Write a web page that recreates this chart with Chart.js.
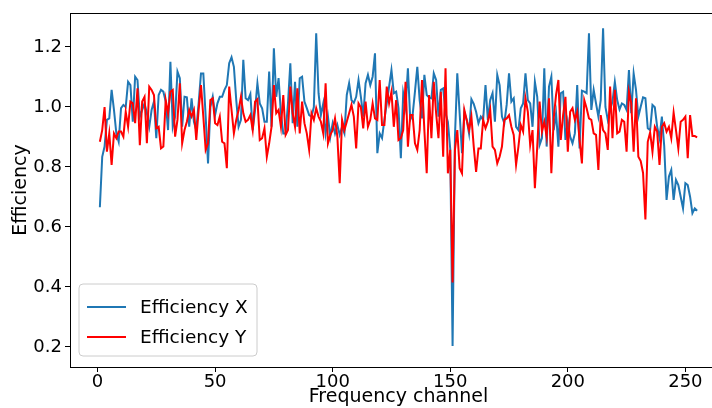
<!DOCTYPE html>
<html>
<head>
<meta charset="utf-8">
<script src="https://cdn.jsdelivr.net/npm/chart.js@4.4.1/dist/chart.umd.min.js"></script>
<style>
  html, body { margin: 0; padding: 0; background: #fff; overflow: hidden; }
  #wrap { width: 712px; height: 408px; overflow: hidden; }
</style>
</head>
<body>
<div id="wrap"><canvas id="chart" width="727" height="408"></canvas></div>
<script>
// efficiency per frequency channel (channels 1..255)
const effX = [
  0.666, 0.834, 0.868, 0.957, 0.962, 1.057, 0.990, 0.912, 0.884, 0.996,
  1.007, 1.000, 1.084, 1.073, 0.951, 1.101, 1.090, 0.968, 0.990, 1.012,
  0.979, 0.934, 0.990, 1.018, 0.896, 1.040, 1.057, 1.051, 1.018, 0.923,
  1.151, 0.934, 0.968, 1.118, 1.096, 0.934, 1.034, 1.032, 0.934, 1.029,
  0.951, 0.923, 1.012, 1.112, 1.112, 0.968, 0.812, 1.000, 1.034, 0.973,
  1.012, 1.034, 1.034, 1.057, 1.073, 1.146, 1.166, 1.134, 1.023, 0.934,
  0.957, 1.157, 1.029, 1.023, 1.043, 0.923, 0.990, 1.079, 1.012, 0.996,
  0.951, 0.951, 1.118, 0.934, 1.196, 1.034, 1.096, 0.979, 0.912, 0.912,
  1.012, 1.146, 0.946, 1.084, 0.934, 1.096, 1.101, 1.018, 0.996, 0.973,
  0.968, 1.000, 1.246, 1.046, 0.973, 1.012, 0.912, 0.968, 0.901, 0.946,
  0.912, 0.940, 0.907, 0.934, 0.912, 1.040, 1.079, 1.023, 1.014, 1.034,
  1.090, 1.034, 0.968, 1.079, 1.107, 1.073, 1.101, 1.179, 0.846, 0.912,
  0.896, 0.957, 1.012, 1.068, 1.123, 1.046, 1.051, 0.996, 0.829, 1.046,
  1.000, 1.129, 0.957, 0.973, 1.051, 1.134, 1.023, 0.962, 1.107, 1.040,
  1.032, 1.029, 1.112, 1.090, 0.968, 1.057, 1.062, 0.979, 0.950, 0.860,
  0.203, 0.900, 1.112, 0.979, 0.846, 0.984, 0.957, 0.912, 1.026, 1.010,
  0.984, 0.946, 0.968, 0.957, 1.073, 0.957, 1.023, 1.046, 0.951, 1.107,
  1.073, 0.968, 0.946, 1.007, 1.112, 1.018, 1.029, 0.934, 0.923, 0.996,
  1.012, 1.112, 1.023, 1.012, 0.934, 1.084, 1.034, 0.873, 0.896, 1.129,
  0.868, 1.068, 1.101, 0.923, 0.979, 0.868, 1.046, 1.051, 0.890, 0.951,
  0.901, 0.879, 0.912, 1.073, 0.862, 1.054, 1.051, 1.046, 1.246, 0.990,
  1.057, 1.012, 0.968, 1.023, 1.262, 1.000, 0.957, 0.990, 1.018, 1.084,
  1.023, 0.992, 1.012, 1.007, 0.990, 1.123, 0.979, 1.112, 1.057, 0.968,
  1.001, 1.032, 1.029, 0.929, 0.923, 1.007, 0.999, 0.934, 0.896, 0.968,
  0.870, 0.690, 0.768, 0.790, 0.690, 0.757, 0.740, 0.701, 0.662, 0.746,
  0.740, 0.701, 0.646, 0.662, 0.654
];
const effY = [
  0.884, 0.923, 1.000, 0.851, 0.912, 0.807, 0.912, 0.896, 0.918, 0.918,
  0.901, 0.984, 0.934, 1.018, 1.012, 0.946, 1.062, 0.873, 1.018, 1.034,
  0.879, 1.068, 1.057, 1.040, 0.929, 0.934, 0.862, 0.868, 1.023, 0.979,
  1.051, 1.057, 0.901, 0.957, 1.079, 0.879, 0.923, 0.951, 0.990, 0.968,
  0.990, 0.890, 0.990, 1.073, 0.968, 0.857, 0.879, 1.023, 1.029, 0.946,
  0.940, 0.968, 0.884, 0.879, 0.796, 1.068, 0.990, 0.912, 0.957, 0.990,
  1.034, 0.979, 0.951, 0.957, 0.973, 0.923, 1.018, 1.026, 0.890, 0.896,
  0.929, 0.834, 0.879, 0.934, 1.073, 0.979, 0.990, 0.934, 1.040, 0.907,
  0.923, 1.068, 0.979, 0.934, 1.062, 0.912, 1.018, 0.946, 0.912, 0.857,
  0.979, 0.957, 0.996, 0.968, 0.951, 0.912, 1.079, 0.879, 0.907, 0.923,
  0.962, 0.901, 0.746, 0.957, 0.923, 0.951, 0.979, 1.007, 0.968, 0.862,
  1.012, 0.999, 0.929, 1.018, 0.934, 0.957, 1.012, 0.962, 0.957, 1.090,
  0.940, 0.940, 1.068, 1.012, 1.051, 0.934, 1.023, 0.890, 0.896, 0.923,
  1.084, 0.868, 0.973, 0.973, 0.879, 0.857, 0.923, 1.090, 0.923, 0.779,
  1.040, 0.896, 1.084, 0.979, 0.896, 1.051, 0.834, 1.129, 0.779, 0.857,
  0.415, 0.857, 0.923, 0.796, 0.779, 0.990, 0.957, 0.923, 0.968, 0.868,
  0.784, 0.862, 0.862, 0.957, 0.929, 0.951, 0.990, 0.868, 0.857, 0.812,
  0.834, 0.868, 0.957, 0.962, 0.973, 0.934, 0.907, 0.807, 0.868, 0.940,
  0.918, 1.029, 0.984, 0.873, 0.923, 0.729, 0.868, 1.018, 0.918, 0.951,
  0.901, 1.029, 0.779, 0.962, 1.040, 1.090, 0.890, 0.973, 1.034, 0.851,
  0.984, 0.996, 0.957, 0.984, 0.890, 0.812, 1.023, 0.996, 0.962, 0.957,
  0.912, 0.907, 0.790, 0.973, 0.923, 0.912, 0.857, 1.068, 0.896, 1.057,
  0.912, 0.918, 0.957, 0.951, 0.851, 1.051, 1.012, 0.851, 1.029, 0.834,
  0.820, 0.780, 0.625, 0.884, 0.915, 0.851, 0.934, 0.918, 0.807, 0.934,
  0.946, 0.918, 0.934, 0.896, 0.981, 0.923, 0.862, 0.951, 0.957, 0.968,
  0.829, 0.973, 0.903, 0.903, 0.899
];
const channels = effX.map((_, i) => i + 1);
const xTicks = [0, 50, 100, 150, 200, 250];
const yTicks = [0.2, 0.4, 0.6, 0.8, 1.0, 1.2];
const seriesNames = ["Efficiency X", "Efficiency Y"];
const seriesColors = ["#1f77b4", "#ff0000"];

Chart.defaults.font.family = "'DejaVu Sans', sans-serif";
Chart.defaults.font.size = 18;
Chart.defaults.color = "#000";

// top/right spines and the matplotlib style legend box
const frame = {
    id: "frame",
    afterDraw(chart) {
        const { ctx, chartArea: a } = chart;
        ctx.save();
        ctx.strokeStyle = "#000";
        ctx.lineWidth = 1;
        ctx.strokeRect(a.left + 0.5, a.top + 0.5, a.right - a.left - 1, a.bottom - a.top);

        // legend
        const bx = 79, by = 284, bw = 178, bh = 72, r = 4;
        ctx.beginPath();
        ctx.moveTo(bx + r, by);
        ctx.arcTo(bx + bw, by, bx + bw, by + bh, r);
        ctx.arcTo(bx + bw, by + bh, bx, by + bh, r);
        ctx.arcTo(bx, by + bh, bx, by, r);
        ctx.arcTo(bx, by, bx + bw, by, r);
        ctx.closePath();
        ctx.fillStyle = "rgba(255,255,255,0.8)";
        ctx.fill();
        ctx.strokeStyle = "#cccccc";
        ctx.stroke();

        ctx.font = "18.5px 'DejaVu Sans'";
        ctx.textBaseline = "middle";
        ctx.textAlign = "left";
        seriesNames.forEach((name, i) => {
            const y = 307 + i * 30;
            ctx.strokeStyle = seriesColors[i];
            ctx.lineWidth = 2;
            ctx.beginPath();
            ctx.moveTo(87, y);
            ctx.lineTo(126, y);
            ctx.stroke();
            ctx.fillStyle = "#000";
            ctx.fillText(name, 140, y + 1);
        });
        ctx.restore();
    }
};

new Chart(document.getElementById("chart"), {
    type: "line",
    data: {
        labels: channels,
        datasets: [
            {
                label: seriesNames[0],
                data: channels.map((c, i) => ({ x: c, y: effX[i] })),
                borderColor: seriesColors[0],
                borderWidth: 2,
                pointRadius: 0,
                order: 1
            },
            {
                label: seriesNames[1],
                data: channels.map((c, i) => ({ x: c, y: effY[i] })),
                borderColor: seriesColors[1],
                borderWidth: 2,
                pointRadius: 0,
                order: 0
            }
        ]
    },
    options: {
        responsive: false,
        animation: false,
        devicePixelRatio: 1,
        layout: { padding: { top: 13, right: 0, bottom: 0, left: 0 } },
        plugins: { legend: { display: false }, tooltip: { enabled: false } },
        scales: {
            x: {
                type: "linear",
                min: -11.7,
                max: 267.7,
                afterBuildTicks: s => { s.ticks = xTicks.map(v => ({ value: v })); },
                afterFit: s => { s.height = 41; s.paddingLeft = 0; s.paddingRight = 0; },
                ticks: { padding: 0, maxRotation: 0, autoSkip: false },
                grid: { drawOnChartArea: false, tickLength: 5, color: "#000" },
                border: { color: "#000", width: 1 },
                title: {
                    display: true, text: "Frequency channel", padding: 0,
                    font: { size: 19, lineHeight: 1.1 }
                }
            },
            y: {
                min: 0.1333,
                max: 1.3133,
                afterBuildTicks: s => { s.ticks = yTicks.map(v => ({ value: v })); },
                afterFit: s => { s.width = 70; s.paddingTop = 0; s.paddingBottom = 0; },
                ticks: { padding: 3, callback: v => v.toFixed(1) },
                grid: { drawOnChartArea: false, tickLength: 5, color: "#000" },
                border: { color: "#000", width: 1 },
                title: {
                    display: true, text: "Efficiency", padding: { top: 11, bottom: 0 },
                    font: { size: 19, lineHeight: 1.1 }
                }
            }
        }
    },
    plugins: [frame]
});
</script>
</body>
</html>
